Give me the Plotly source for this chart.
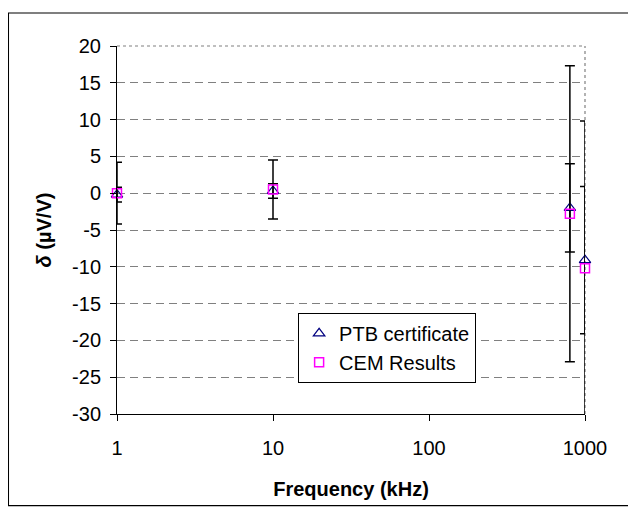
import plotly.graph_objects as go

freq_khz = [1, 10, 800, 1000]

ptb_values = [-0.2, 0.3, -2.0, -9.1]
ptb_err = [1.0, 1.0, 6.0, 10.0]

cem_values = [0.0, 0.5, -2.8, -10.2]
cem_err = [4.2, 4.0, 20.1, 20.0]

y_ticks = list(range(-30, 21, 5))
y_tick_labels = [str(v) for v in y_ticks]
x_ticks = [1, 10, 100, 1000]
x_tick_labels = ["1", "10", "100", "1000"]

FONT = "Liberation Sans, Arial, sans-serif"
FS = 20

fig = go.Figure()

fig.add_trace(go.Scatter(
    x=freq_khz, y=ptb_values, mode="markers", name="PTB certificate",
    marker=dict(symbol="triangle-up-open", size=10, color="#000080", line=dict(width=1.2)),
    error_y=dict(type="data", array=ptb_err, visible=True, color="black", thickness=1.5, width=5),
    cliponaxis=False, legendgroup="a",
))
fig.add_trace(go.Scatter(
    x=freq_khz, y=cem_values, mode="markers", name="CEM Results",
    marker=dict(symbol="square-open", size=9, color="#FF00FF", line=dict(width=1.5)),
    error_y=dict(type="data", array=cem_err, visible=True, color="black", thickness=1.5, width=5),
    cliponaxis=False, legendgroup="b",
))

# plot area border: dotted top and right
fig.add_shape(type="line", xref="paper", yref="paper", x0=0, x1=1, y0=1, y1=1,
              line=dict(color="#808080", width=1.2, dash="dot"), layer="below")
fig.add_shape(type="line", xref="paper", yref="paper", x0=1, x1=1, y0=0, y1=1,
              line=dict(color="#808080", width=1.2, dash="dot"), layer="below")
# outer chart border
fig.add_shape(type="rect", xref="paper", yref="paper",
              x0=-0.232, x1=1.094, y0=-0.249, y1=1.0897,
              line=dict(color="black", width=1.2), layer="below")

fig.update_xaxes(
    type="log", range=[0, 3], tickvals=x_ticks, ticktext=x_tick_labels,
    showgrid=False, zeroline=False, showline=True, linecolor="black", linewidth=1,
    ticks="outside", ticklen=6, tickcolor="black", ticklabelstandoff=10,
    tickfont=dict(family=FONT, size=FS, color="black"),
    title=dict(text="<b>Frequency (kHz)</b>", font=dict(family=FONT, size=FS, color="black"), standoff=23),
    automargin=False,
)
fig.update_yaxes(
    range=[-30, 20], tickvals=y_ticks, ticktext=y_tick_labels,
    showgrid=True, gridcolor="#808080", gridwidth=1, griddash="8px,5px",
    zeroline=False, showline=True, linecolor="black", linewidth=1,
    ticks="outside", ticklen=6, tickcolor="black", ticklabelstandoff=5,
    tickfont=dict(family=FONT, size=FS, color="black"),
    title=dict(text="<b><i>δ</i> (µV/V)</b>", font=dict(family=FONT, size=FS, color="black"), standoff=15),
    automargin=False,
)

fig.update_layout(
    width=636, height=515,
    margin=dict(l=109, r=59, t=38, b=109),
    paper_bgcolor="white", plot_bgcolor="white",
    font=dict(family=FONT, size=FS, color="black"),
    showlegend=True,
    legend=dict(
        x=0.387, y=0.275, xanchor="left", yanchor="top",
        bordercolor="black", borderwidth=1, bgcolor="white",
        font=dict(family=FONT, size=FS, color="black"),
        itemwidth=30, tracegroupgap=0,
    ),
)

fig.write_html("out.html")
